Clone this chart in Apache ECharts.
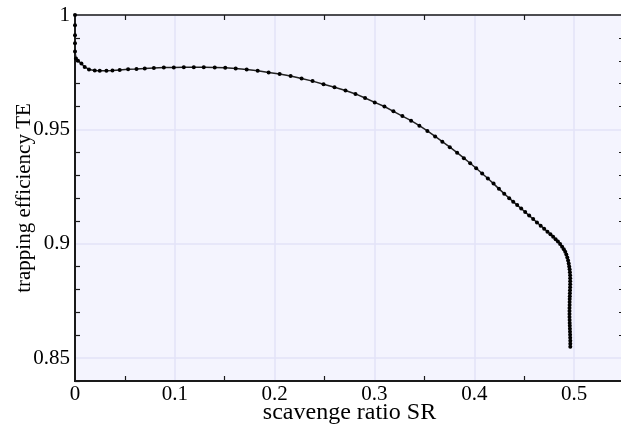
<!DOCTYPE html>
<html>
<head>
<meta charset="utf-8">
<script src="https://cdn.jsdelivr.net/npm/echarts@6/dist/echarts.min.js"></script>
<style>html,body{margin:0;padding:0;background:#fff}#c{width:621px;height:426px}</style>
</head>
<body>
<div id="c"></div>
<script>
// scavenge ratio SR (x) and trapping efficiency TE (y)
const srValues = [
  0, 0, 0, 0, 0, 0.001, 0.003, 0.0064, 0.0097, 0.014, 0.0198, 0.0248, 0.0315, 0.0375,
  0.0448, 0.0532, 0.0616, 0.0699, 0.079, 0.089, 0.099, 0.109, 0.119, 0.129, 0.140,
  0.1505, 0.161, 0.172, 0.183, 0.194, 0.205, 0.216, 0.227, 0.238, 0.249, 0.260, 0.271,
  0.281, 0.2906, 0.3003, 0.310, 0.319, 0.328, 0.3367, 0.345, 0.353, 0.3608, 0.368,
  0.3755, 0.3828, 0.3896, 0.3959, 0.4019, 0.4079, 0.4136, 0.4193, 0.4247, 0.430, 0.435,
  0.439, 0.443, 0.447, 0.451, 0.455, 0.459, 0.4628, 0.4665, 0.470, 0.4733, 0.4763,
  0.479, 0.4815, 0.4838, 0.486, 0.488, 0.4897, 0.4911, 0.4922, 0.4932, 0.494, 0.4946,
  0.4951, 0.4955, 0.4958, 0.496, 0.4961, 0.4961, 0.4961, 0.496, 0.4959, 0.4958, 0.4957,
  0.4956, 0.4955, 0.4955, 0.4954, 0.4954, 0.4954, 0.4954, 0.4955, 0.4956, 0.4957,
  0.4958, 0.4959, 0.496, 0.4961, 0.4962, 0.4962, 0.4962
];
const teValues = [
  1.0, 0.9955, 0.9912, 0.9877, 0.9840, 0.9810, 0.9800, 0.9788, 0.9773, 0.9762, 0.9757,
  0.9756, 0.9756, 0.9757, 0.9760, 0.9763, 0.9764, 0.9766, 0.9768, 0.9770, 0.9771, 0.9772,
  0.9772, 0.9772, 0.9771, 0.9769, 0.9766, 0.9762, 0.9756, 0.9749, 0.9742, 0.9733, 0.9722,
  0.9711, 0.9697, 0.9684, 0.9670, 0.9655, 0.9637, 0.9618, 0.9600, 0.9579, 0.9558, 0.9538,
  0.9516, 0.9493, 0.9469, 0.9446, 0.9422, 0.9398, 0.9374, 0.9352, 0.9330, 0.9307, 0.9285,
  0.9263, 0.9240, 0.9219, 0.9199, 0.9184, 0.9169, 0.9154, 0.9139, 0.9123, 0.9108, 0.9093,
  0.9079, 0.9066, 0.9053, 0.9042, 0.9031, 0.9020, 0.9010, 0.8999, 0.8987, 0.8976, 0.8965,
  0.8953, 0.8940, 0.8927, 0.8914, 0.8901, 0.8888, 0.8875, 0.8862, 0.8849, 0.8836, 0.8823,
  0.8810, 0.8797, 0.8784, 0.8771, 0.8758, 0.8745, 0.8732, 0.8719, 0.8706, 0.8693, 0.8680,
  0.8667, 0.8654, 0.8641, 0.8628, 0.8615, 0.8602, 0.8589, 0.8576, 0.8563, 0.8550
];
const xTickLabels = [0, 0.1, 0.2, 0.3, 0.4, 0.5];
const xMinorTicks = [0.05, 0.15, 0.25, 0.35, 0.45, 0.55];
const yTickLabels = [0.85, 0.9, 0.95, 1];
const yMinorTicks = [0.84, 0.86, 0.87, 0.88, 0.89, 0.91, 0.92, 0.93, 0.94, 0.96, 0.97, 0.98, 0.99];
const xRange = [0, 0.55];
const yRange = [0.84, 1];

const data = srValues.map((x, i) => [x, teValues[i]]);
const font = 'Liberation Serif';
const lineCol = '#1a1a1a';
const gridCol = '#e3e3f7';

function xAx(pos, main, minor) {
  return {
    type: 'value', position: pos, min: xRange[0], max: xRange[1],
    axisLine: { show: true, onZero: false, lineStyle: { color: lineCol, width: pos === 'bottom' ? 2 : 1.5 } },
    axisTick: main ? { show: false, customValues: xTickLabels } : { show: true, inside: true, length: 5, customValues: minor, lineStyle: { color: lineCol, width: 1.2 } },
    axisLabel: main ? { show: true, customValues: xTickLabels, fontFamily: font, fontSize: 21, color: '#000', margin: 3 } : { show: false },
    splitLine: main ? { show: true, lineStyle: { color: gridCol, width: 1.5 } } : { show: false },
    name: main ? 'scavenge ratio SR' : '', nameLocation: 'middle', nameGap: 20, nameMoveOverlap: false,
    nameTextStyle: { fontFamily: font, fontSize: 24, color: '#000', verticalAlign: 'top' }
  };
}
function yAx(pos, main, minor) {
  return {
    type: 'value', position: pos, min: yRange[0], max: yRange[1],
    axisLine: { show: true, onZero: false, lineStyle: { color: lineCol, width: pos === 'left' ? 2 : 1.5 } },
    axisTick: main ? { show: false, customValues: yTickLabels } : { show: true, inside: true, length: 5, customValues: minor, lineStyle: { color: lineCol, width: 1.2 } },
    axisLabel: main ? { show: true, customValues: yTickLabels, fontFamily: font, fontSize: 21, color: '#000', margin: 5 } : { show: false },
    splitLine: main ? { show: true, lineStyle: { color: gridCol, width: 1.5 } } : { show: false },
    name: main ? 'trapping efficiency TE' : '', nameLocation: 'middle', nameGap: 40, nameMoveOverlap: false,
    nameTextStyle: { fontFamily: font, fontSize: 21, color: '#000' }
  };
}

const chart = echarts.init(document.getElementById('c'), null, { renderer: 'canvas' });
chart.setOption({
  animation: false,
  backgroundColor: '#ffffff',
  grid: { left: 75, right: -3, top: 15, bottom: 45, show: true, backgroundColor: '#f4f4fe', borderWidth: 0, containLabel: false, outerBoundsMode: 'none' },
  xAxis: [xAx('bottom', true), xAx('bottom', false, xMinorTicks), xAx('top', false, xMinorTicks)],
  yAxis: [yAx('left', true), yAx('left', false, yMinorTicks), yAx('right', false, yMinorTicks)],
  series: [{
    type: 'line', xAxisIndex: 0, yAxisIndex: 0, data: data,
    showSymbol: true, showAllSymbol: true, symbol: 'circle', symbolSize: 4,
    itemStyle: { color: '#000' },
    lineStyle: { color: '#222', width: 1.5 },
    clip: false
  }]
});
</script>
</body>
</html>
